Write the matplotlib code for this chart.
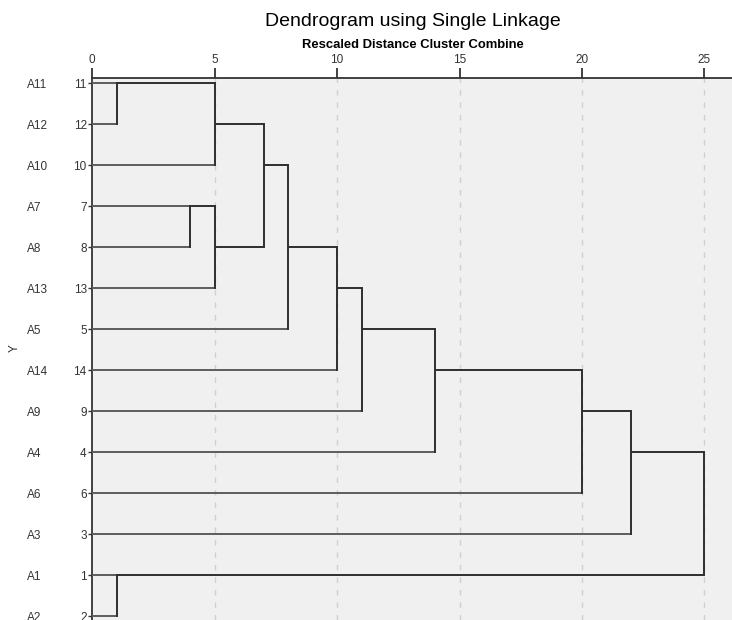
import numpy as np
import matplotlib
matplotlib.use('Agg')
import matplotlib.pyplot as plt
import matplotlib.transforms as mtransforms

plt.rcParams['font.family'] = ['Liberation Sans', 'DejaVu Sans']

# 덴드로그램 데이터 (위에서 아래로 잎의 순서)
case_ids = [11, 12, 10, 7, 8, 13, 5, 14, 9, 4, 6, 3, 1, 2]
case_names = ['A11', 'A12', 'A10', 'A7', 'A8', 'A13', 'A5', 'A14',
              'A9', 'A4', 'A6', 'A3', 'A1', 'A2']

# 병합 순서: (케이스 a가 속한 군집, 케이스 b가 속한 군집, 재조정 거리)
merge_a = [11, 1, 7, 11, 7, 11, 11, 11, 11, 11, 11, 11, 11]
merge_b = [12, 2, 8, 10, 13, 7, 5, 14, 9, 4, 6, 3, 1]
merge_dist = [1, 1, 4, 5, 5, 7, 8, 10, 11, 14, 20, 22, 25]

xticks = [0, 5, 10, 15, 20, 25]

fig = plt.figure(figsize=(7.32, 6.2), dpi=100)
ax = fig.add_axes([92.3 / 732, 0, 1 - 92.3 / 732, 1 - 78.3 / 620])
ax.set_facecolor('#f0f0f0')

# 각 케이스가 속한 군집: [행 위치, 현재 높이, 잎 여부]
cluster_of = {c: c for c in case_ids}
clusters = {c: [i, 0.0, True] for i, c in enumerate(case_ids)}

link_color = '#2e2e2e'
leaf_color = '#5c5c5c'

for a, b, d in zip(merge_a, merge_b, merge_dist):
    ka, kb = cluster_of[a], cluster_of[b]
    pa, xa, la = clusters[ka]
    pb, xb, lb = clusters[kb]
    ax.plot([xa, d], [pa, pa], color=leaf_color if la else link_color, lw=1.4, solid_capstyle='butt', zorder=3)
    ax.plot([xb, d], [pb, pb], color=leaf_color if lb else link_color, lw=1.4, solid_capstyle='butt', zorder=3)
    ax.plot([d, d], [pa, pb], color=link_color, lw=1.4, zorder=3)
    new_pos = int(np.floor((pa + pb) / 2))
    clusters[ka] = [new_pos, d, False]
    del clusters[kb]
    for c in cluster_of:
        if cluster_of[c] == kb:
            cluster_of[c] = ka

rows = np.arange(len(case_ids))
ax.set_xlim(0, (732 - 92.3) / 24.48)
ax.set_ylim(13 + (620 - 616.3) / 41, -(83.3 - 78.3) / 41)

ax.xaxis.tick_top()
ax.set_xticks(xticks)
ax.set_xticklabels([str(t) for t in xticks])
ax.set_yticks(rows)
ax.set_yticklabels([str(c) for c in case_ids])
ax.tick_params(axis='x', length=7, width=1.3, color='#333333', pad=2,
               labelsize=8.5, labelcolor='#333333')
ax.tick_params(axis='y', length=3, width=1.0, color='#333333', pad=1,
               labelsize=8.5, labelcolor='#333333')
for lbl in ax.get_yticklabels():
    lbl.set_va('center_baseline')

for t in xticks[1:]:
    ax.axvline(t, color='#d0d0d0', lw=1.0, ls=(0, (4, 5)), zorder=1)

for s in ['right', 'bottom']:
    ax.spines[s].set_visible(False)
for s in ['left', 'top']:
    ax.spines[s].set_color('#333333')
    ax.spines[s].set_linewidth(1.3)

# 케이스 이름 (왼쪽 열)
trans = mtransforms.blended_transform_factory(fig.transFigure, ax.transData)
for i, name in enumerate(case_names):
    ax.text(27 / 732, i, name, transform=trans, ha='left', va='center_baseline',
            fontsize=8.5, color='#333333', clip_on=False)

fig.text(15 / 732, 1 - 348 / 620, 'Y', rotation=90, ha='center', va='center',
         fontsize=8.5, color='#333333')

fig.text(413 / 732, 1 - 22 / 620, 'Dendrogram using Single Linkage',
         ha='center', va='center', fontsize=14, color='black')
fig.text(413 / 732, 1 - 44.5 / 620, 'Rescaled Distance Cluster Combine',
         ha='center', va='center', fontsize=9.4, fontweight='bold', color='black')

fig.savefig('out.png', dpi=100)
